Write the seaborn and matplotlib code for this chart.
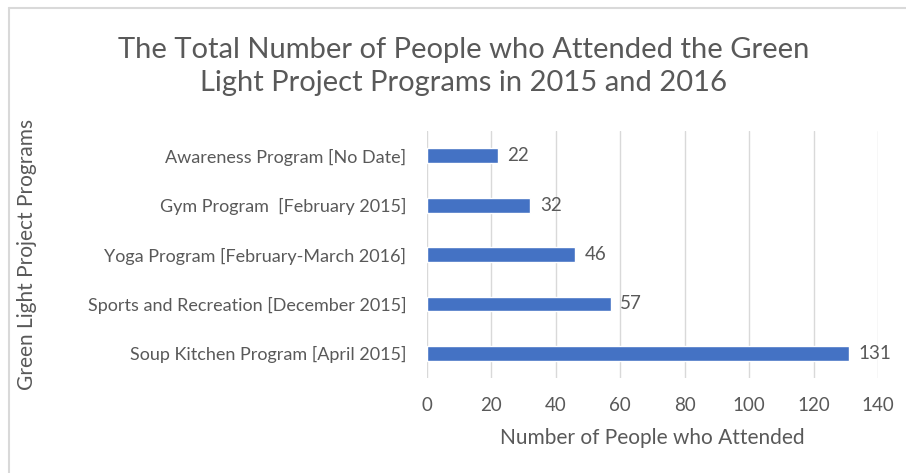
import matplotlib
matplotlib.use("Agg")
import matplotlib.pyplot as plt
import seaborn as sns
import pandas as pd
from matplotlib.lines import Line2D

programs = [
    "Awareness Program [No Date]",
    "Gym Program  [February 2015]",
    "Yoga Program [February-March 2016]",
    "Sports and Recreation [December 2015]",
    "Soup Kitchen Program [April 2015]",
]
attended = [22, 32, 46, 57, 131]
xticks = [0, 20, 40, 60, 80, 100, 120, 140]

df = pd.DataFrame({"program": programs, "attended": attended})

sns.set_style("white")
plt.rcParams["font.family"] = ["Lato", "DejaVu Sans"]
text_col = "#595959"

fig = plt.figure(figsize=(9.06, 4.73), dpi=100)
ax = fig.add_axes([0.4713, 0.2008, 0.4978, 0.5222])

sns.barplot(data=df, x="attended", y="program", color="#4472C4",
            width=0.3, saturation=1, ax=ax, zorder=3)

for i, v in enumerate(attended):
    ax.annotate(str(v), xy=(v, i), xytext=(7, 0), textcoords="offset points",
                ha="left", va="center", fontsize=13.5, color=text_col)

ax.set_xlim(0, 140)
ax.set_ylim(4.5, -0.5)
ax.set_xticks(xticks)
ax.set_xticklabels([str(t) for t in xticks])
ax.grid(axis="x", color="#D9D9D9", linewidth=1, zorder=0)
ax.grid(axis="y", visible=False)
for s in ax.spines.values():
    s.set_visible(False)
ax.tick_params(axis="x", length=0, labelsize=13.5, labelcolor=text_col, pad=14)
ax.tick_params(axis="y", length=0, labelsize=13, labelcolor=text_col, pad=15)

ax.set_xlabel("Number of People who Attended", fontsize=15, color=text_col, labelpad=10)
ax.set_ylabel("")
fig.text(0.030, 0.463, "Green Light Project Programs", rotation=90, ha="center",
         va="center", fontsize=15, color=text_col)

fig.text(0.5116, 0.860, "The Total Number of People who Attended the Green\nLight Project Programs in 2015 and 2016",
         ha="center", va="center", fontsize=21, color=text_col, linespacing=1.35)

# frame border (left and top)
fig.add_artist(Line2D([0.010, 0.010], [0, 0.983], transform=fig.transFigure, color="#D9D9D9", lw=1.5))
fig.add_artist(Line2D([0.010, 1.0], [0.983, 0.983], transform=fig.transFigure, color="#D9D9D9", lw=1.5))

fig.savefig("out.png", dpi=100)
